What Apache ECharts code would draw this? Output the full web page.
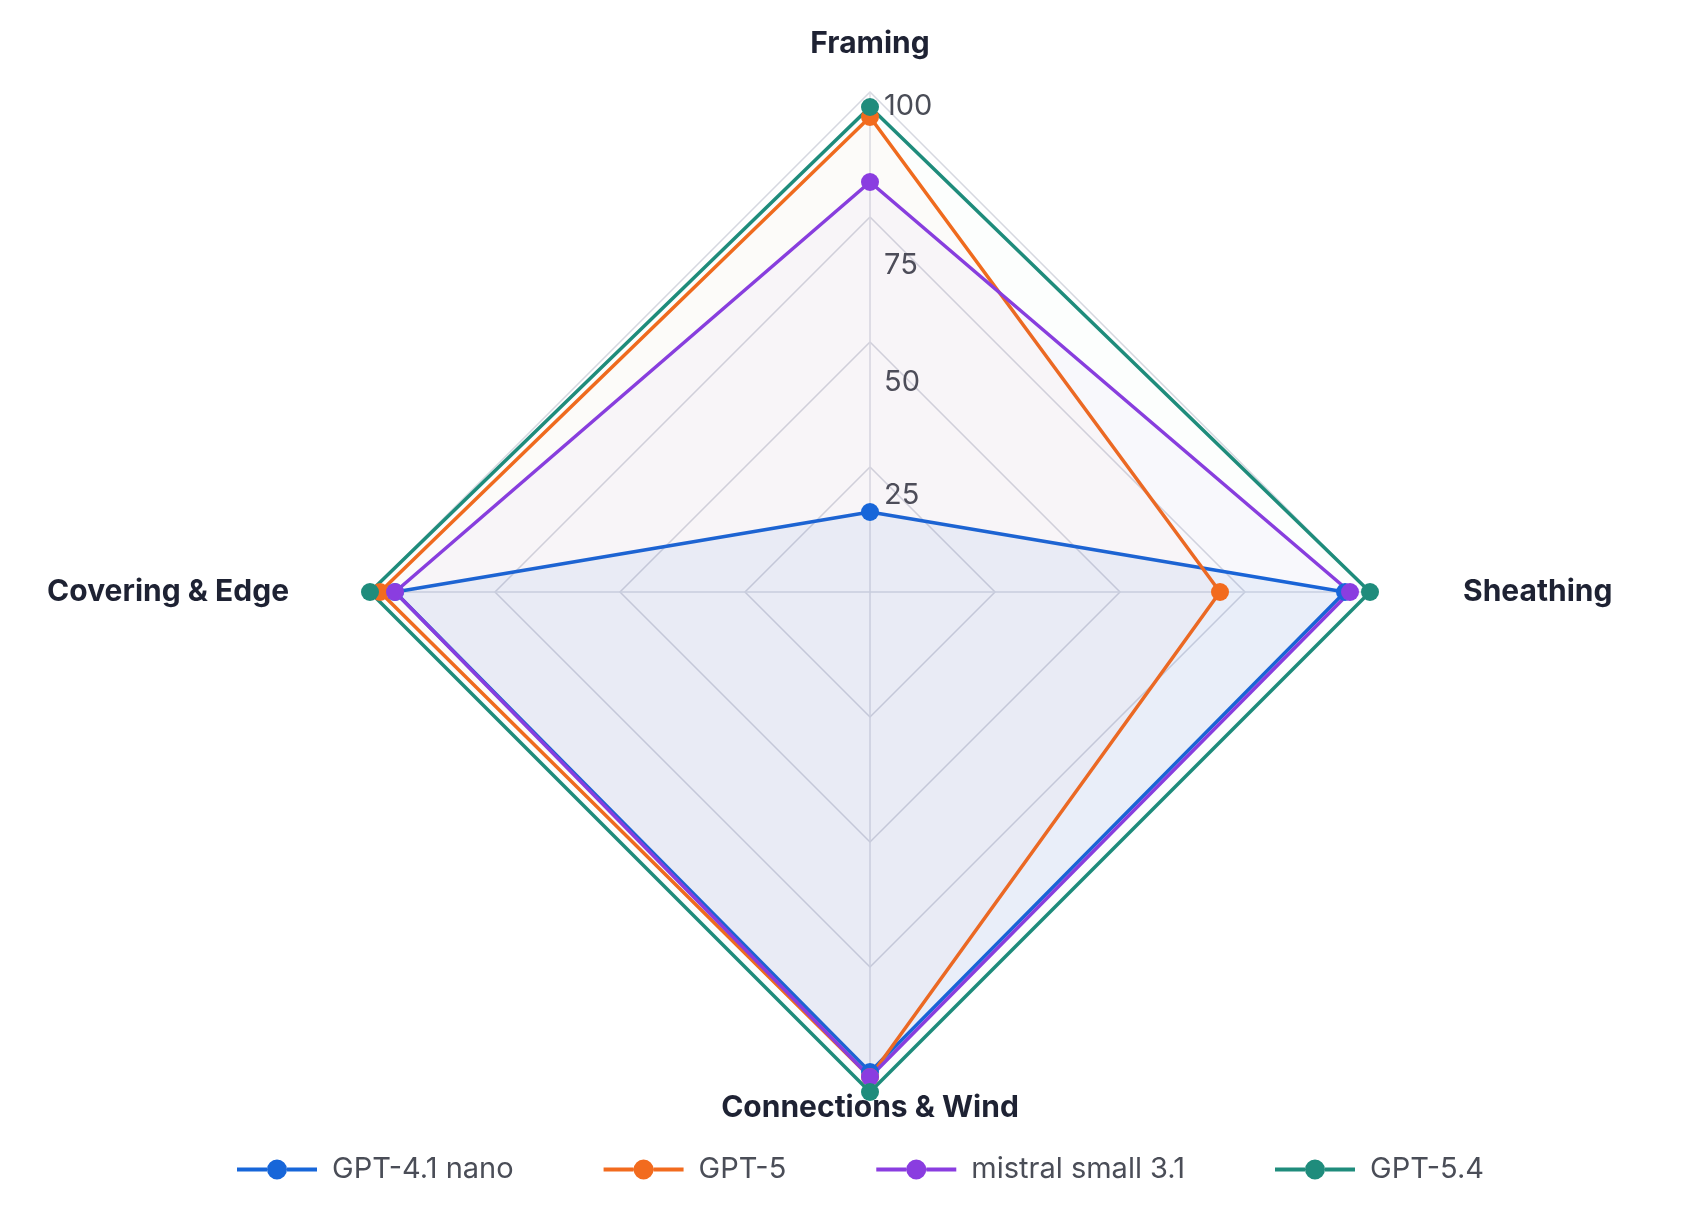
<!DOCTYPE html>
<html>
<head>
<meta charset="utf-8">
<script src="https://cdn.jsdelivr.net/npm/echarts@6/dist/echarts.min.js"></script>
<style>
  html, body { margin: 0; padding: 0; background: #ffffff; }
  #chart { width: 1681px; height: 1225px; }
</style>
</head>
<body>
<div id="chart"></div>
<script>
// axes, counter-clockwise from the top
const indicatorNames = ['Framing', 'Covering & Edge', 'Connections & Wind', 'Sheathing'];
const tickLabels = [25, 50, 75, 100];

const seriesNames = ['GPT-4.1 nano', 'GPT-5', 'mistral small 3.1', 'GPT-5.4'];
const seriesColors = ['#1766d9', '#f26b1e', '#8a3de0', '#1f8c7c'];
const areaOpacity = [0.065, 0.018, 0.03, 0.012];

const nanoValues = [16, 95, 96, 95];
const gpt5Values = [95, 98, 97, 70];
const mistralValues = [82, 95, 97, 96];
const gpt54Values = [97, 100, 100, 100];

const allValues = [nanoValues, gpt5Values, mistralValues, gpt54Values];

const chart = echarts.init(document.getElementById('chart'));

// which side each axis name sits on, so it gets its own gap
const nameSide = {
    'Framing': 'top',
    'Covering & Edge': 'left',
    'Connections & Wind': 'bottom',
    'Sheathing': 'right'
};

// legend icon: short line with a dot in the middle (80 x 20 box)
const lineDotIcon = 'path://M0,8L30,8L30,12L0,12Z' +
    'M30,10A10,10,0,1,0,50,10A10,10,0,1,0,30,10Z' +
    'M50,8L80,8L80,12L50,12Z';

const nameFont = { fontFamily: 'Inter', fontWeight: 'bold', fontSize: 30, color: '#1e2233' };
const tickFont = { fontFamily: 'Inter', fontSize: 29, color: '#4a4d57' };

const option = {
    backgroundColor: '#ffffff',
    animation: false,
    legend: {
        data: seriesNames.map(function (n) { return { name: n, icon: lineDotIcon }; }),
        top: 1150,
        left: 232,
        itemWidth: 80,
        itemHeight: 20,
        itemGap: 90,
        textStyle: {
            fontFamily: 'Inter',
            fontSize: 29,
            color: '#4a4d57',
            padding: [0, 0, 0, 10]
        }
    },
    radar: {
        center: [870, 592],
        radius: 500,
        startAngle: 90,
        shape: 'polygon',
        splitNumber: 4,
        nameGap: 1,
        indicator: indicatorNames.map(function (name, i) {
            const ind = { name: name, max: 100, min: 0 };
            if (i === 0) {
                ind.axisLabel = {
                    show: true,
                    fontFamily: 'Inter',
                    fontSize: 29,
                    color: '#4a4d57',
                    margin: -14,
                    align: 'left',
                    verticalAlign: 'top',
                    formatter: function (v) {
                        return tickLabels.indexOf(v) >= 0 ? '{t' + v + '|' + v + '}' : '';
                    },
                    rich: {
                        t25: Object.assign({ padding: [14, 0, 0, 0] }, tickFont),
                        t50: Object.assign({ padding: [26, 0, 0, 0] }, tickFont),
                        t75: Object.assign({ padding: [34, 0, 0, 0] }, tickFont),
                        t100: Object.assign({ padding: [0, 0, 0, 0] }, tickFont)
                    }
                };
            }
            return ind;
        }),
        axisName: {
            fontFamily: 'Inter',
            fontWeight: 'bold',
            fontSize: 30,
            color: '#1e2233',
            formatter: function (name) {
                return '{' + nameSide[name] + '|' + name + '}';
            },
            rich: {
                top: Object.assign({ padding: [0, 0, 32, 0] }, nameFont),
                bottom: Object.assign({ padding: [0, 0, 0, 0] }, nameFont),
                left: Object.assign({ padding: [0, 80, 0, 0] }, nameFont),
                right: Object.assign({ padding: [0, 0, 0, 92] }, nameFont)
            }
        },
        axisLine: { lineStyle: { color: '#dcdee6', width: 1.5 } },
        splitLine: { lineStyle: { color: '#d6d8e0', width: 1.5 } },
        splitArea: { show: false }
    },
    series: [{
        type: 'radar',
        symbol: 'circle',
        symbolSize: 18,
        data: allValues.map(function (vals, i) {
            return {
                name: seriesNames[i],
                value: vals,
                lineStyle: { color: seriesColors[i], width: 3.5 },
                itemStyle: { color: seriesColors[i] },
                areaStyle: { color: seriesColors[i], opacity: areaOpacity[i] }
            };
        })
    }]
};

chart.setOption(option);
</script>
</body>
</html>
